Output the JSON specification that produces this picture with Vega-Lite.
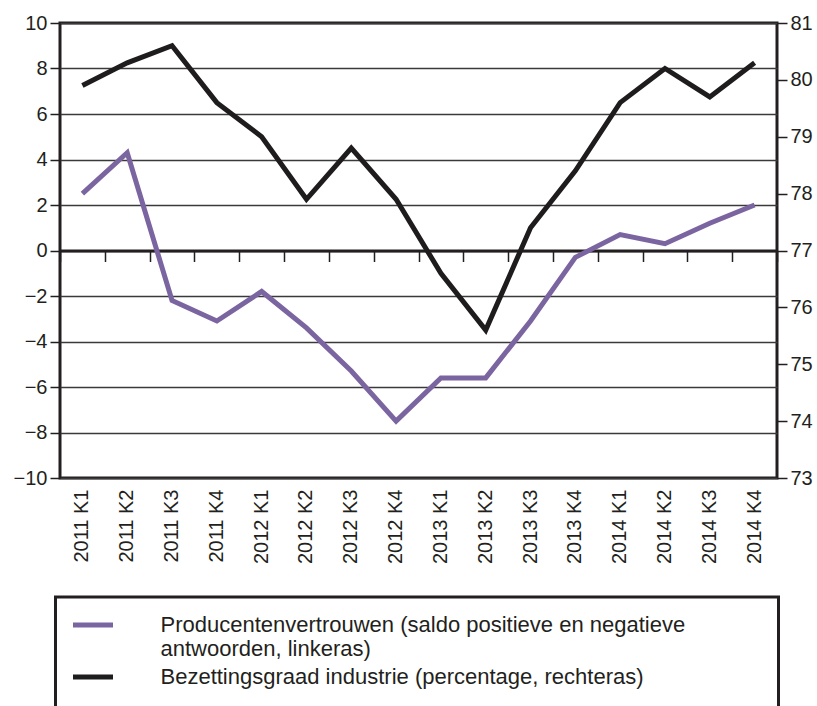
{
  "$schema": "https://vega.github.io/schema/vega-lite/v6.json",
  "width": 717,
  "height": 455,
  "autosize": {"type": "none"},
  "padding": {"left": 60, "top": 23, "right": 40, "bottom": 228},
  "background": "white",
  "config": {
    "font": "Liberation Sans",
    "view": {"stroke": "#231f20", "strokeWidth": 3},
    "axis": {"labelFont": "Liberation Sans", "labelFontSize": 20, "labelColor": "#231f20", "tickColor": "#231f20", "titleFontSize": 20},
    "legend": {"strokeColor": "#231f20", "strokeWidth": 3, "padding": 15, "fillColor": "white"},
    "style": {"guide-label": {"lineHeight": 24}}
  },
  "datasets": {
    "reeks": [
      {"kwartaal": "2011 K1", "serie": "P", "waarde": 2.5},
      {"kwartaal": "2011 K2", "serie": "P", "waarde": 4.3},
      {"kwartaal": "2011 K3", "serie": "P", "waarde": -2.2},
      {"kwartaal": "2011 K4", "serie": "P", "waarde": -3.1},
      {"kwartaal": "2012 K1", "serie": "P", "waarde": -1.8},
      {"kwartaal": "2012 K2", "serie": "P", "waarde": -3.4},
      {"kwartaal": "2012 K3", "serie": "P", "waarde": -5.3},
      {"kwartaal": "2012 K4", "serie": "P", "waarde": -7.5},
      {"kwartaal": "2013 K1", "serie": "P", "waarde": -5.6},
      {"kwartaal": "2013 K2", "serie": "P", "waarde": -5.6},
      {"kwartaal": "2013 K3", "serie": "P", "waarde": -3.1},
      {"kwartaal": "2013 K4", "serie": "P", "waarde": -0.3},
      {"kwartaal": "2014 K1", "serie": "P", "waarde": 0.7},
      {"kwartaal": "2014 K2", "serie": "P", "waarde": 0.3},
      {"kwartaal": "2014 K3", "serie": "P", "waarde": 1.2},
      {"kwartaal": "2014 K4", "serie": "P", "waarde": 2.0},
      {"kwartaal": "2011 K1", "serie": "B", "waarde": 79.9},
      {"kwartaal": "2011 K2", "serie": "B", "waarde": 80.3},
      {"kwartaal": "2011 K3", "serie": "B", "waarde": 80.6},
      {"kwartaal": "2011 K4", "serie": "B", "waarde": 79.6},
      {"kwartaal": "2012 K1", "serie": "B", "waarde": 79.0},
      {"kwartaal": "2012 K2", "serie": "B", "waarde": 77.9},
      {"kwartaal": "2012 K3", "serie": "B", "waarde": 78.8},
      {"kwartaal": "2012 K4", "serie": "B", "waarde": 77.9},
      {"kwartaal": "2013 K1", "serie": "B", "waarde": 76.6},
      {"kwartaal": "2013 K2", "serie": "B", "waarde": 75.6},
      {"kwartaal": "2013 K3", "serie": "B", "waarde": 77.4},
      {"kwartaal": "2013 K4", "serie": "B", "waarde": 78.4},
      {"kwartaal": "2014 K1", "serie": "B", "waarde": 79.6},
      {"kwartaal": "2014 K2", "serie": "B", "waarde": 80.2},
      {"kwartaal": "2014 K3", "serie": "B", "waarde": 79.7},
      {"kwartaal": "2014 K4", "serie": "B", "waarde": 80.3}
    ]
  },
  "data": {"name": "reeks"},
  "layer": [
    {
      "transform": [{"filter": "datum.serie == 'P'"}],
      "mark": {"type": "line", "strokeWidth": 5, "strokeJoin": "miter", "strokeCap": "butt"},
      "encoding": {
        "x": {
          "field": "kwartaal", "type": "ordinal", "sort": null, "bandPosition": 0.5,
          "scale": {"type": "band", "paddingInner": 0, "paddingOuter": 0},
          "axis": {"orient": "bottom", "title": null, "labelAngle": -90, "ticks": false, "domain": false, "labelPadding": 11, "grid": false}
        },
        "y": {
          "field": "waarde", "type": "quantitative",
          "scale": {"domain": [-10, 10], "nice": false, "zero": false},
          "axis": {"orient": "left", "title": null, "values": [-10, -8, -6, -4, -2, 0, 2, 4, 6, 8, 10], "domain": false, "tickSize": 10, "tickWidth": 1.5, "labelPadding": 3, "grid": true, "gridColor": "#3a3a3a", "gridWidth": 1.5, "gridOpacity": 1}
        },
        "color": {
          "field": "serie", "type": "nominal",
          "scale": {"domain": ["P", "B"], "range": ["#7b65a0", "#1f1c1d"]},
          "legend": {
            "orient": "none", "legendX": -4.5, "legendY": 574, "title": null,
            "symbolType": "stroke", "symbolSize": 1600, "symbolStrokeWidth": 5,
            "labelFont": "Liberation Sans", "labelFontSize": 22, "labelColor": "#231f20", "labelLimit": 900, "labelOffset": 45,
            "labelExpr": "datum.value == 'P' ? ['Producentenvertrouwen (saldo positieve en negatieve\u00a0\u00a0\u00a0\u00a0\u00a0\u00a0\u00a0\u00a0\u00a0\u00a0\u00a0\u00a0\u2009\u200b', 'antwoorden, linkeras)'] : ['Bezettingsgraad industrie (percentage, rechteras)', '\u200b']",
            "rowPadding": 4,
            "clipHeight": 26
          }
        }
      }
    },
    {
      "transform": [{"filter": "datum.serie == 'B'"}],
      "mark": {"type": "line", "strokeWidth": 5, "strokeJoin": "miter", "strokeCap": "butt"},
      "encoding": {
        "x": {
          "field": "kwartaal", "type": "ordinal", "sort": null, "bandPosition": 0.5,
          "axis": {"orient": "top", "offset": -227.5, "title": null, "labels": false, "ticks": true, "tickBand": "extent", "tickSize": -11, "tickWidth": 1.5, "tickColor": "#231f20", "domain": true, "domainColor": "#231f20", "domainWidth": 3, "grid": false}
        },
        "y": {
          "field": "waarde", "type": "quantitative",
          "scale": {"domain": [73, 81], "nice": false, "zero": false},
          "axis": {"orient": "right", "title": null, "values": [73, 74, 75, 76, 77, 78, 79, 80, 81], "domain": false, "tickSize": 10, "tickWidth": 1.5, "labelPadding": 3, "grid": false}
        },
        "color": {"field": "serie", "type": "nominal"}
      }
    }
  ],
  "resolve": {"scale": {"y": "independent"}, "axis": {"x": "independent", "y": "independent"}}
}
